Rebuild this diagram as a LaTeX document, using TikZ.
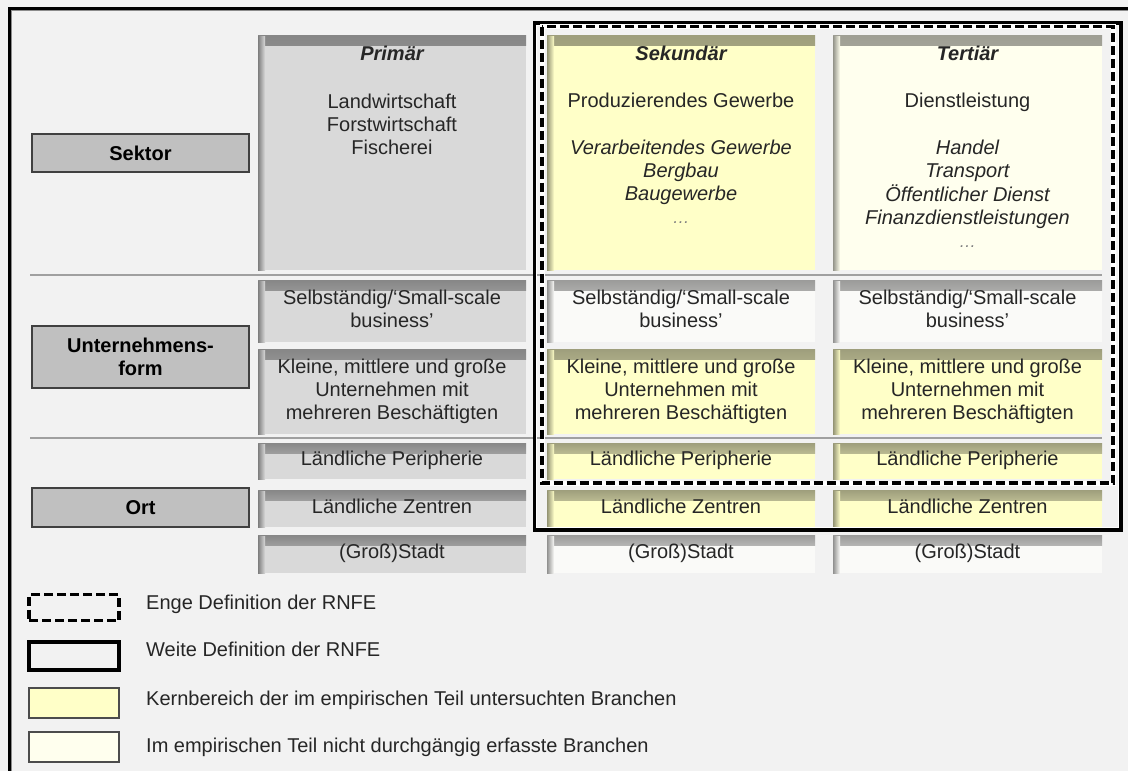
\documentclass[tikz,border=0pt]{standalone}
\usepackage{fontspec}
\setmainfont{Liberation Sans}
\definecolor{bg}{HTML}{F2F2F2}
\definecolor{lab}{HTML}{C0C0C0}
\definecolor{prim}{HTML}{D9D9D9}
\definecolor{yel}{HTML}{FFFFC8}
\definecolor{ivory}{HTML}{FFFFEE}
\definecolor{whit}{HTML}{FAFAF8}
\definecolor{txt}{HTML}{262626}
\definecolor{sep}{HTML}{A0A0A0}
\begin{document}
\begin{tikzpicture}[x=1pt,y=-1pt,
  cell/.style={fill=#1, inner sep=0pt, align=center, font=\fontsize{20}{23}\selectfont, text=txt,
    path picture={
      \shade[top color=black!38!#1, bottom color=#1]
        (path picture bounding box.north west) rectangle ([yshift=-10pt]path picture bounding box.north east);
      \shade[left color=black!42!#1, right color=#1]
        ([yshift=-1pt]path picture bounding box.north west) rectangle ([xshift=7pt]path picture bounding box.south west);
    }},
  ctext/.style={inner sep=0pt, align=center, font=\fontsize{20}{23}\selectfont, text=txt, anchor=north},
  citext/.style={inner sep=0pt, align=center, font=\fontsize{20}{23}\selectfont\itshape, text=txt, anchor=north},
  ctitle/.style={inner sep=0pt, align=center, font=\fontsize{20}{23}\selectfont\bfseries\itshape, text=txt, anchor=north},
  labbox/.style={fill=lab, draw=black!75, line width=1.2pt, inner sep=0pt, align=center,
    font=\fontsize{20}{23}\selectfont\bfseries, minimum width=217pt},
  legbox/.style={inner sep=0pt, minimum width=90pt},
  legtext/.style={inner sep=0pt, anchor=west, text=txt, font=\fontsize{20}{23}\selectfont},
  sepline/.style={draw=sep, line width=1.8pt},
  wide/.style={draw=black, line width=3.4pt},
  narrow/.style={draw=black, line width=3.4pt, dash pattern=on 9pt off 4pt},
]
\useasboundingbox (0,0) rectangle (1128,771);
\fill[bg] (0,0) rectangle (1128,771);
% outer frame (top and left)
\draw[black, line width=3pt] (9.5,771) -- (9.5,8) -- (1128,8);
\draw[black!45, line width=1pt] (11.5,771) -- (11.5,10) -- (1128,10);

% separators
\coordinate (s1a) at (30,275); \coordinate (s1b) at (1102,275);
\coordinate (s2a) at (30,438); \coordinate (s2b) at (1102,438);
\draw[sepline] (s1a) -- (s1b);
\draw[sepline] (s2a) -- (s2b);

% labels
\node[labbox, minimum height=38pt] (sektor) at (140.5,153) {Sektor};
\node[labbox, minimum height=62pt] (uform) at (140.5,357) {Unternehmens-\\form};
\node[labbox, minimum height=39pt] (ort) at (140.5,507.5) {Ort};

% Primaer column
\node[cell=prim, minimum width=268pt, minimum height=235pt] (p0) at (392,152.5) {};
\node[cell=prim, minimum width=268pt, minimum height=62pt] (p1) at (392,311) {\strut Selbständig/‘Small-scale\\\strut business’};
\node[cell=prim, minimum width=268pt, minimum height=85pt] (p2) at (392,391.5) {\strut Kleine, mittlere und große\\\strut Unternehmen mit\\\strut mehreren Beschäftigten};
\node[cell=prim, minimum width=268pt, minimum height=36pt] (p3) at (392,461) {\strut Ländliche Peripherie};
\node[cell=prim, minimum width=268pt, minimum height=37pt] (p4) at (392,508.5) {\strut Ländliche Zentren};
\node[cell=prim, minimum width=268pt, minimum height=38pt] (p5) at (392,554) {\strut (Groß)Stadt};

% Sekundaer column
\node[cell=yel, minimum width=268pt, minimum height=235pt] (s0) at (681,152.5) {};
\node[cell=whit, minimum width=268pt, minimum height=62pt] (s1) at (681,311) {\strut Selbständig/‘Small-scale\\\strut business’};
\node[cell=yel, minimum width=268pt, minimum height=85pt] (s2) at (681,391.5) {\strut Kleine, mittlere und große\\\strut Unternehmen mit\\\strut mehreren Beschäftigten};
\node[cell=yel, minimum width=268pt, minimum height=36pt] (s3) at (681,461) {\strut Ländliche Peripherie};
\node[cell=yel, minimum width=268pt, minimum height=37pt] (s4) at (681,508.5) {\strut Ländliche Zentren};
\node[cell=whit, minimum width=268pt, minimum height=38pt] (s5) at (681,554) {\strut (Groß)Stadt};

% Tertiaer column
\node[cell=ivory, minimum width=269pt, minimum height=235pt] (t0) at (967.5,152.5) {};
\node[cell=whit, minimum width=269pt, minimum height=62pt] (t1) at (967.5,311) {\strut Selbständig/‘Small-scale\\\strut business’};
\node[cell=yel, minimum width=269pt, minimum height=85pt] (t2) at (967.5,391.5) {\strut Kleine, mittlere und große\\\strut Unternehmen mit\\\strut mehreren Beschäftigten};
\node[cell=yel, minimum width=269pt, minimum height=36pt] (t3) at (967.5,461) {\strut Ländliche Peripherie};
\node[cell=yel, minimum width=269pt, minimum height=37pt] (t4) at (967.5,508.5) {\strut Ländliche Zentren};
\node[cell=whit, minimum width=269pt, minimum height=38pt] (t5) at (967.5,554) {\strut (Groß)Stadt};

% top texts
\node[ctitle] (ptitle) at (392,44) {\strut Primär};
\node[ctext] (pbody) at (392,92) {\strut Landwirtschaft\\\strut Forstwirtschaft\\\strut Fischerei};
\node[ctitle] (stitle) at (681,44) {\strut Sekundär};
\node[ctext] (sbody) at (681,91) {\strut Produzierendes Gewerbe};
\node[citext] (sital) at (681,138) {\strut Verarbeitendes Gewerbe\\\strut Bergbau\\\strut Baugewerbe\\\strut\textcolor{black!50}{\fontsize{17}{23}\selectfont …}};
\node[ctitle] (ttitle) at (967.5,44) {\strut Tertiär};
\node[ctext] (tbody) at (967.5,91) {\strut Dienstleistung};
\node[citext] (tital) at (967.5,138) {\strut Handel\\\strut Transport\\\strut Öffentlicher Dienst\\\strut Finanzdienstleistungen\\\strut\textcolor{black!50}{\fontsize{17}{23}\selectfont …}};

% definition frames
\coordinate (wa) at (534.5,23); \coordinate (wb) at (1121,530);
\coordinate (na) at (542,26.5); \coordinate (nb) at (1113,483);
\draw[white, line width=1.2pt] ([xshift=2.3pt,yshift=-2.3pt]wa) rectangle ([xshift=-2.3pt,yshift=2.3pt]wb);
\draw[wide] (wa) rectangle (wb);
\draw[white, line width=5pt] (na) rectangle (nb);
\draw[narrow] (na) rectangle (nb);

% legend
\node[legbox, minimum height=26pt, narrow] (l1) at (74,607.5) {};
\node[legbox, minimum height=28pt, wide] (l2) at (74,656) {};
\node[legbox, minimum height=30pt, fill=yel, draw=black!70, line width=1.2pt] (l3) at (74,703) {};
\node[legbox, minimum height=30pt, fill=ivory, draw=black!70, line width=1.2pt] (l4) at (74,747) {};
\node[legtext] (e1) at (146,605) {\strut Enge Definition der RNFE};
\node[legtext] (e2) at (146,652) {\strut Weite Definition der RNFE};
\node[legtext] (e3) at (146,701) {\strut Kernbereich der im empirischen Teil untersuchten Branchen};
\node[legtext] (e4) at (146,748) {\strut Im empirischen Teil nicht durchgängig erfasste Branchen};
\end{tikzpicture}
\end{document}
